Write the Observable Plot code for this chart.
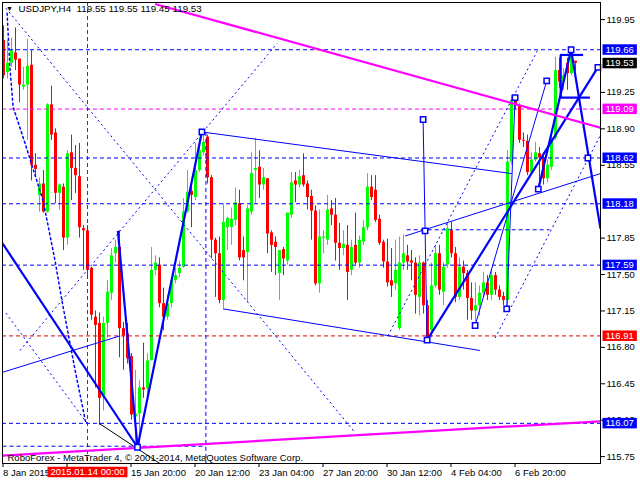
<!DOCTYPE html>
<html><head><meta charset="utf-8">
<script src="https://cdn.jsdelivr.net/npm/d3@7"></script>
<script src="https://cdn.jsdelivr.net/npm/@observablehq/plot@0.6"></script>
<style>body{margin:0;background:#fff;}</style>
</head><body><div id="chart"></div>
<script>
// ---- candle data (USDJPY H4), bar index = position on the chart ----
const opens  = [119.75,119.44,119.53,119.63,119.57,119.30,119.32,119.51,118.55,118.26,118.37,118.10,119.13,118.86,118.28,118.34,117.85,118.67,118.52,118.44,117.94,117.92,117.56,117.09,117.03,116.32,117.03,117.32,117.70,117.76,116.98,116.93,116.71,116.13,116.16,116.41,116.40,116.67,117.54,117.59,117.22,117.09,117.22,117.44,117.51,117.57,118.10,118.30,118.24,118.50,118.67,118.82,118.43,117.83,117.70,117.25,117.95,117.95,118.02,118.18,117.73,117.71,118.10,118.50,118.53,118.36,118.42,117.90,117.81,117.51,117.74,117.63,118.07,118.40,118.36,118.45,118.37,118.25,118.11,117.41,117.85,117.83,118.13,118.07,117.80,117.75,117.78,117.54,117.78,117.61,117.81,117.95,118.34,118.31,118.03,117.81,117.62,117.44,117.41,116.98,117.61,117.68,117.63,117.61,117.28,117.61,117.20,116.96,117.39,117.70,117.33,117.59,117.92,117.70,117.28,117.57,117.51,117.27,117.15,117.20,117.32,117.42,117.30,117.49,117.35,117.29,117.25,118.58,119.17,119.12,118.79,118.78,118.48,118.60,118.66,118.62,118.42,118.53,118.81,119.46,119.35,119.53,119.43,119.55];
const highs  = [119.89,119.75,119.77,119.87,119.57,119.49,119.76,119.65,118.66,118.43,118.50,119.14,119.31,118.90,118.37,118.37,118.69,118.84,118.74,118.76,117.97,117.97,117.57,117.15,117.13,117.09,117.44,117.75,117.83,117.92,117.04,117.03,116.74,116.58,116.48,116.84,116.74,117.76,117.68,117.66,117.37,117.30,117.47,117.56,117.63,118.23,118.50,118.38,118.76,118.81,118.87,118.84,118.45,117.85,117.86,118.18,118.05,118.14,118.33,118.31,117.86,118.16,118.67,118.81,118.69,118.52,118.42,117.92,117.86,117.73,117.76,118.09,118.48,118.48,118.50,118.66,118.40,118.31,118.16,118.12,117.92,118.26,118.21,118.23,117.99,117.92,117.97,117.83,118.09,117.87,118.02,118.47,118.45,118.45,118.07,117.83,117.84,117.75,117.83,117.86,117.88,117.78,117.73,117.66,117.68,117.62,117.25,117.61,117.78,117.78,117.61,117.99,118.00,117.76,117.66,117.63,117.54,117.42,117.42,117.39,117.52,117.49,117.54,117.52,117.39,117.33,118.69,119.22,119.20,119.14,118.86,118.84,118.67,118.77,118.72,118.67,118.60,118.84,119.59,119.58,119.48,119.58,119.66,119.55];
const lows   = [119.38,119.38,119.49,119.46,119.15,119.27,118.79,118.40,118.45,118.10,118.09,118.09,118.79,118.18,118.12,117.73,117.78,118.21,118.28,117.85,117.54,117.47,117.06,116.41,116.05,116.19,116.89,117.25,117.61,116.70,116.58,116.64,116.10,115.84,115.86,116.31,116.32,116.67,117.49,117.18,116.96,117.06,117.18,117.41,117.47,117.56,118.09,117.95,118.21,118.48,118.64,118.37,117.65,117.28,117.22,117.17,117.73,117.78,117.97,117.63,117.44,117.23,118.07,118.18,118.23,118.31,117.70,117.52,117.49,117.25,117.49,117.59,118.04,118.19,118.33,118.34,118.12,117.83,117.39,117.32,117.70,117.78,117.97,117.63,117.54,117.68,117.25,117.49,117.59,117.56,117.78,117.92,118.21,118.00,117.78,117.56,117.38,117.28,117.35,116.96,117.54,117.54,117.44,117.12,117.10,117.12,116.86,116.89,117.37,117.30,117.20,117.56,117.66,117.23,117.25,117.35,117.06,117.06,117.01,117.10,117.28,117.25,117.25,117.30,117.25,117.20,117.17,118.55,119.08,118.76,118.72,118.45,118.45,118.58,118.33,118.36,118.38,118.50,118.79,119.29,119.27,119.27,119.41,119.45];
const closes = [119.41,119.53,119.65,119.56,119.32,119.32,119.50,118.55,118.51,118.37,118.10,119.13,118.84,118.28,118.36,117.85,118.66,118.52,118.45,117.95,117.92,117.54,117.11,117.01,116.31,117.03,117.33,117.68,117.76,116.98,116.91,116.69,116.15,116.16,116.41,116.39,116.67,117.54,117.61,117.22,117.09,117.22,117.44,117.49,117.56,118.10,118.29,118.26,118.50,118.69,118.77,118.43,117.83,117.70,117.25,118.00,118.04,118.03,118.19,117.66,117.66,118.13,118.47,118.52,118.36,118.43,117.89,117.78,117.76,117.73,117.65,118.09,118.38,118.36,118.44,118.36,118.24,118.11,117.41,117.86,117.86,118.12,118.07,117.80,117.75,117.79,117.52,117.76,117.61,117.83,117.95,118.34,118.24,118.02,117.80,117.62,117.42,117.39,117.54,117.61,117.70,117.62,117.61,117.30,117.61,117.20,116.88,117.39,117.70,117.35,117.57,117.94,117.70,117.28,117.57,117.51,117.27,117.15,117.20,117.32,117.42,117.30,117.49,117.35,117.28,117.25,118.58,119.17,119.12,118.79,118.78,118.48,118.60,118.67,118.62,118.42,118.55,118.81,119.46,119.35,119.41,119.43,119.64,119.53];

// ---- axis tick values and labels ("13 Jan 04:00" sits under the red time box, so it is not shown) ----
const xTickIdx    = [0, 16, 32, 48, 64, 80, 96, 112, 128];
const xTickLabels = ["8 Jan 2015","","15 Jan 20:00","20 Jan 12:00","23 Jan 04:00","27 Jan 20:00","30 Jan 12:00","4 Feb 04:00","6 Feb 20:00"];
const yTicks      = [119.95,119.25,118.90,118.55,117.85,117.50,117.15,116.80,116.45,116.10,115.75];

// ---- horizontal price levels (dashed) ----
const blueLevels    = [119.66, 118.62, 118.18, 117.59, 116.07];
const magentaLevels = [119.09];
const redLevels     = [116.91];
const vLineIdx      = [21];            // 2015.01.14 00:00
const vLineLabel    = ["2015.01.14 00:00"];

// ---- right-edge price boxes ----
const boxPrices = [119.66, 119.53, 119.09, 118.62, 118.18, 117.59, 116.91, 116.07];
const boxColors = ["#0000ff","#000000","#ff00ff","#0000ff","#0000ff","#0000ff","#ff0000","#0000ff"];

// ---- drawn objects: [barIndex1, price1, barIndex2, price2] ----
const dashSegs = [[100.8,117.93,136.5,117.93],[-0.25,115.85,50.6,115.85],[50.6,118.87,50.6,115.684]];
const thickSegs = [
  [-0.25,117.80,33.5,115.84],[28.6,117.92,33.5,115.84],[33.5,115.84,49.6,118.87],
  [105.9,116.87,148.6,119.49],[133.7,118.32,141.9,119.66],[141.9,119.66,149.25,117.94],
  [139.1,119.61,144.9,119.61],[139.1,119.20,146.6,119.20],[139.3,119.61,139.3,119.20]
];
const thinSegs = [
  [49.6,118.87,127.1,118.47],[54.9,117.17,119.1,116.77],[100.4,117.87,149.25,118.47],
  [104.9,118.99,105.9,116.87],[117.9,117.01,135.8,119.36],[125.8,117.17,127.9,119.20],
  [-0.25,116.56,29.1,116.91]
];
const blackSegs = [[23.9,116.07,39.1,115.684]];
const dotSegs = [
  [0.6,120.06,87.9,115.98],[4.1,116.77,68.4,119.72],[0.6,117.13,20.9,116.07],
  [96.1,116.91,133.6,119.66],[122.9,116.89,149.25,118.84]
];
const arcIdx   = [0.9,1.6,2.4,5.4,9.9,12.9,14.6,17.9,20.6];
const arcPrice = [120.01,119.49,119.11,118.76,118.21,117.63,117.25,116.58,116.07];
const magentaSegs = [[37.9,120.10,149.25,118.91],[-0.25,115.76,149.25,116.09]];
const markerIdx   = [33.5,49.6,104.9,105.4,105.9,117.9,125.8,127.9,133.7,135.8,141.9,148.6,146.1];
const markerPrice = [115.84,118.87,118.99,117.92,116.87,117.01,117.17,119.20,118.32,119.36,119.66,119.49,118.62];

const headerText = ["USDJPY,H4  119.55 119.55 119.45 119.53"];
const footerText = ["RoboForex - MetaTrader 4, © 2001-2014, MetaQuotes Software Corp."];

// ---- styles ----
const GREEN = "#00ff00", RED = "#ff0000", BLUE = "#0000ff", MAG = "#ff00ff", DRED = "#e00000";
const FONT = "'Liberation Sans', Arial, sans-serif";
const DASH = "4,3", DOT = "2,3";

const bars = opens.map((o, i) => ({i, o, h: highs[i], l: lows[i], c: closes[i]}));
const upBars = bars.filter(d => d.c >= d.o), downBars = bars.filter(d => d.c < d.o);
const seg = a => ({x1: a[0], y1: a[1], x2: a[2], y2: a[3]});
const arc = arcIdx.map((x, k) => ({x, y: arcPrice[k]}));
const markers = markerIdx.map((x, k) => ({x, y: markerPrice[k]}));
const link = (segs, opts) => Plot.link(segs.map(seg), {x1: "x1", y1: "y1", x2: "x2", y2: "y2", clip: true, ...opts});

const chart = Plot.plot({
  width: 640, height: 480,
  marginLeft: 2, marginRight: 40, marginTop: 2, marginBottom: 17,
  x: {type: "linear", domain: [-0.25, 149.25], axis: null},
  y: {type: "linear", domain: [115.684, 120.114], axis: null},
  style: {fontFamily: FONT, fontSize: "9.5px", background: "white", color: "black", overflow: "visible"},
  marks: [
    Plot.ruleX(upBars, {x: "i", y1: "l", y2: "h", stroke: GREEN}),
    Plot.ruleX(downBars, {x: "i", y1: "l", y2: "h", stroke: RED}),
    Plot.ruleX(upBars, {x: "i", y1: "o", y2: "c", stroke: GREEN, strokeWidth: 3}),
    Plot.ruleX(downBars, {x: "i", y1: "o", y2: "c", stroke: RED, strokeWidth: 3}),
    Plot.ruleY(blueLevels, {stroke: BLUE, strokeDasharray: DASH}),
    Plot.ruleY(magentaLevels, {stroke: MAG, strokeDasharray: DASH}),
    Plot.ruleY(redLevels, {stroke: DRED, strokeDasharray: DASH}),
    Plot.ruleX(vLineIdx, {stroke: DRED, strokeDasharray: DASH}),
    link(dashSegs, {stroke: BLUE, strokeDasharray: DASH}),
    link(dotSegs, {stroke: BLUE, strokeDasharray: DOT}),
    Plot.line(arc, {x: "x", y: "y", stroke: BLUE, strokeDasharray: DOT, clip: true}),
    link(thinSegs, {stroke: BLUE, strokeWidth: 1}),
    link(blackSegs, {stroke: "black", strokeWidth: 1}),
    link(thickSegs, {stroke: BLUE, strokeWidth: 2.2}),
    link(magentaSegs, {stroke: MAG, strokeWidth: 2.2}),
    Plot.dot(markers, {x: "x", y: "y", symbol: "square", r: 3, stroke: BLUE, strokeWidth: 1.5, fill: "white"}),
    Plot.frame({stroke: "black"}),
    Plot.axisY({anchor: "right", ticks: yTicks, tickFormat: d => d.toFixed(2), tickSize: 4, tickPadding: 2, fontSize: 9.5, stroke: "black"}),
    Plot.axisX({anchor: "bottom", ticks: xTickIdx, tickFormat: d => xTickLabels[xTickIdx.indexOf(d)], tickSize: 4, tickPadding: 2, textAnchor: "start", dx: -0.5, fontSize: 9.5, stroke: "black"}),
    Plot.text(headerText, {frameAnchor: "top-left", dx: 16, dy: 3, textAnchor: "start", lineAnchor: "top", fontSize: 9.8, fill: "black"}),
    Plot.text(["▼"], {frameAnchor: "top-left", dx: 7, dy: 4, textAnchor: "middle", lineAnchor: "top", fontSize: 7, fill: "black"}),
    Plot.text(footerText, {frameAnchor: "bottom-left", dx: 5, dy: -3, textAnchor: "start", lineAnchor: "bottom", fontSize: 9.5, fill: "black"}),
    Plot.text(boxPrices, {y: d => d, frameAnchor: "right", text: d => d.toFixed(2), textAnchor: "start", dx: 5, fill: "white", fontSize: 9.5, ariaDescription: "pricebox"}),
    Plot.text(vLineLabel, {x: () => vLineIdx[0], frameAnchor: "bottom", textAnchor: "middle", lineAnchor: "top", dy: 5, fill: "white", fontSize: 9.5, ariaDescription: "datebox"})
  ]
});
document.getElementById("chart").append(chart);

// coloured backgrounds behind boxed labels
function boxify(desc, colors) {
  const g = chart.querySelector(`g[aria-description="${desc}"]`);
  if (!g) return;
  g.querySelectorAll("text").forEach((t, k) => {
    const b = t.getBBox();
    const r = document.createElementNS("http://www.w3.org/2000/svg", "rect");
    r.setAttribute("x", b.x - 3);
    r.setAttribute("y", b.y + 0.5);
    r.setAttribute("width", b.width + 6);
    r.setAttribute("height", b.height - 0.5);
    r.setAttribute("fill", colors[k % colors.length]);
    const tr = t.getAttribute("transform");
    if (tr) r.setAttribute("transform", tr);
    g.insertBefore(r, t);
  });
}
boxify("pricebox", boxColors);
boxify("datebox", [RED]);
</script>
</body></html>
